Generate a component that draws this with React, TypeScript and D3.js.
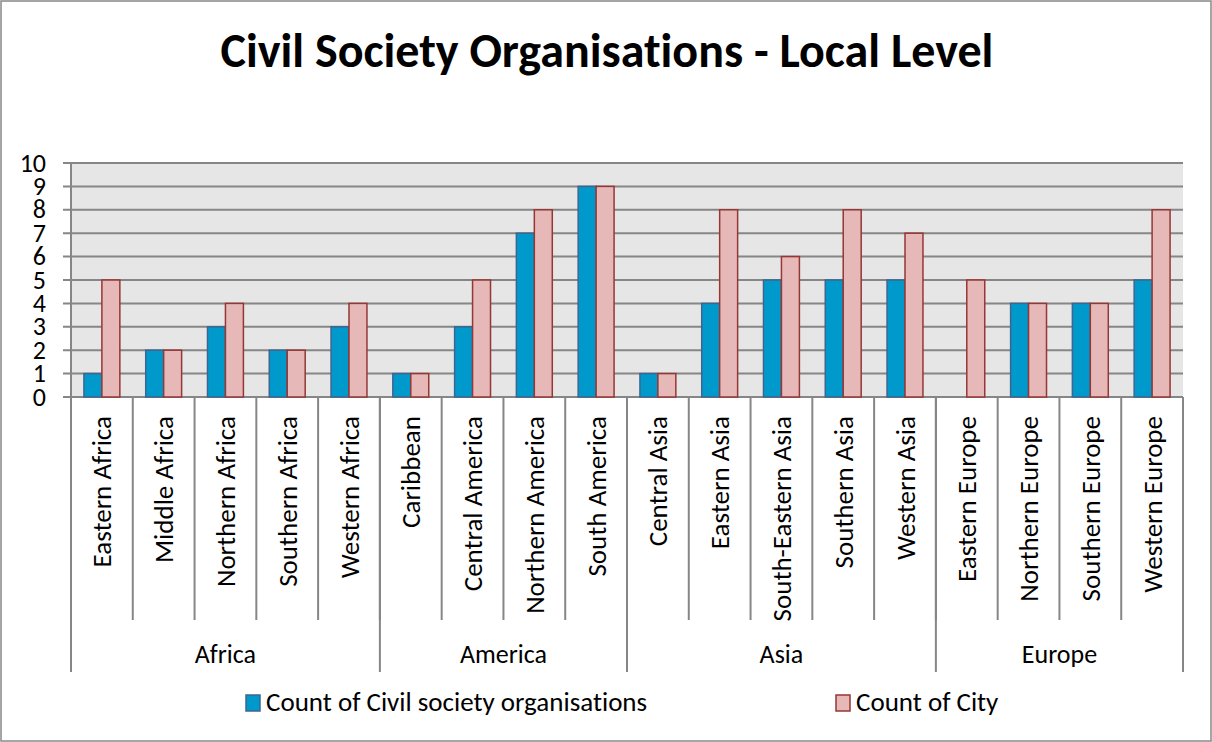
import React from "react";
import * as d3 from "d3";

const categories = ["Eastern Africa","Middle Africa","Northern Africa","Southern Africa","Western Africa","Caribbean","Central America","Northern America","South America","Central Asia","Eastern Asia","South-Eastern Asia","Southern Asia","Western Asia","Eastern Europe","Northern Europe","Southern Europe","Western Europe"];
const groups = ["Africa","America","Asia","Europe"];
const groupSizes = [5,4,5,4];
const csoCounts = [1,2,3,2,3,1,3,7,9,1,4,5,5,5,0,4,4,5];
const cityCounts = [5,2,4,2,4,1,5,8,9,1,8,6,8,7,5,4,4,8];
const yTicks = [0,1,2,3,4,5,6,7,8,9,10];
const seriesNames = ["Count of Civil society organisations","Count of City"];

const W = 1212, H = 742;
const left = 71, right = 1183, top = 163, bottom = 397;
const FONT = "Carlito, Calibri, Lato, 'Open Sans', sans-serif";

export default function App() {
  const x = d3.scaleBand<string>().domain(categories).range([left, right]).paddingInner(0).paddingOuter(0);
  const inner = d3.scaleBand<string>().domain(["cso","city"]).range([0, x.bandwidth()]).paddingInner(0).paddingOuter(0.72);
  const y = d3.scaleLinear().domain([0, 10]).range([bottom, top]);
  const bw = x.bandwidth();

  let acc = 0;
  const groupBounds = groupSizes.map((n, i) => {
    const s = left + acc * bw;
    acc += n;
    return { name: groups[i], x0: s, x1: left + acc * bw };
  });

  return (
    <svg width={W} height={H} style={{ position: "absolute", left: 0, top: 0, background: "#fff", fontVariantLigatures: "none" }} fontFamily={FONT}>
      <rect x={1} y={1} width={W - 2} height={H - 2} fill="#fff" stroke="#888" strokeWidth={1.5} />
      <text x={607} y={67} textAnchor="middle" fontSize={48} fontWeight="bold" fill="#000">Civil Society Organisations - Local Level</text>
      <rect x={left} y={top} width={right - left} height={bottom - top} fill="#e6e6e6" />
      {yTicks.map(t => (
        <g key={t}>
          <line x1={left - 8} x2={right} y1={y(t)} y2={y(t)} stroke="#868686" strokeWidth={2} />
          <text x={46} y={y(t) + 8.5} textAnchor="end" fontSize={26} fill="#000">{t}</text>
        </g>
      ))}
      <line x1={left} x2={left} y1={top} y2={bottom} stroke="#868686" strokeWidth={2} />
      {categories.map((c, i) => {
        const x0 = x(c)!;
        return (
          <g key={c}>
            <rect x={x0 + inner("cso")!} y={y(csoCounts[i])} width={inner.bandwidth()} height={bottom - y(csoCounts[i])} fill="#0099cc" stroke="#3e6590" strokeWidth={1.5} />
            <rect x={x0 + inner("city")!} y={y(cityCounts[i])} width={inner.bandwidth()} height={bottom - y(cityCounts[i])} fill="#e6b9b8" stroke="#953735" strokeWidth={1.5} />
            <text transform={`translate(${x0 + bw / 2 + 9.5},${416}) rotate(-90)`} textAnchor="end" fontSize={27} fill="#000">{c}</text>
          </g>
        );
      })}
      {categories.map((c, i) => (
        <line key={"t" + i} x1={x(c)!} x2={x(c)!} y1={bottom} y2={620} stroke="#868686" strokeWidth={2} />
      ))}
      <line x1={right} x2={right} y1={bottom} y2={672} stroke="#868686" strokeWidth={2} />
      {groupBounds.map(g => (
        <g key={g.name}>
          <line x1={g.x0} x2={g.x0} y1={bottom} y2={672} stroke="#868686" strokeWidth={2} />
          <text x={(g.x0 + g.x1) / 2} y={663} textAnchor="middle" fontSize={26} fill="#000">{g.name}</text>
        </g>
      ))}
      <g>
        <rect x={246} y={695} width={14} height={16} fill="#0099cc" stroke="#3e6590" strokeWidth={1.5} />
        <text x={266} y={711} fontSize={27} fill="#000">{seriesNames[0]}</text>
        <rect x={836} y={695} width={14} height={16} fill="#e6b9b8" stroke="#953735" strokeWidth={1.5} />
        <text x={856} y={711} fontSize={27} fill="#000">{seriesNames[1]}</text>
      </g>
    </svg>
  );
}
